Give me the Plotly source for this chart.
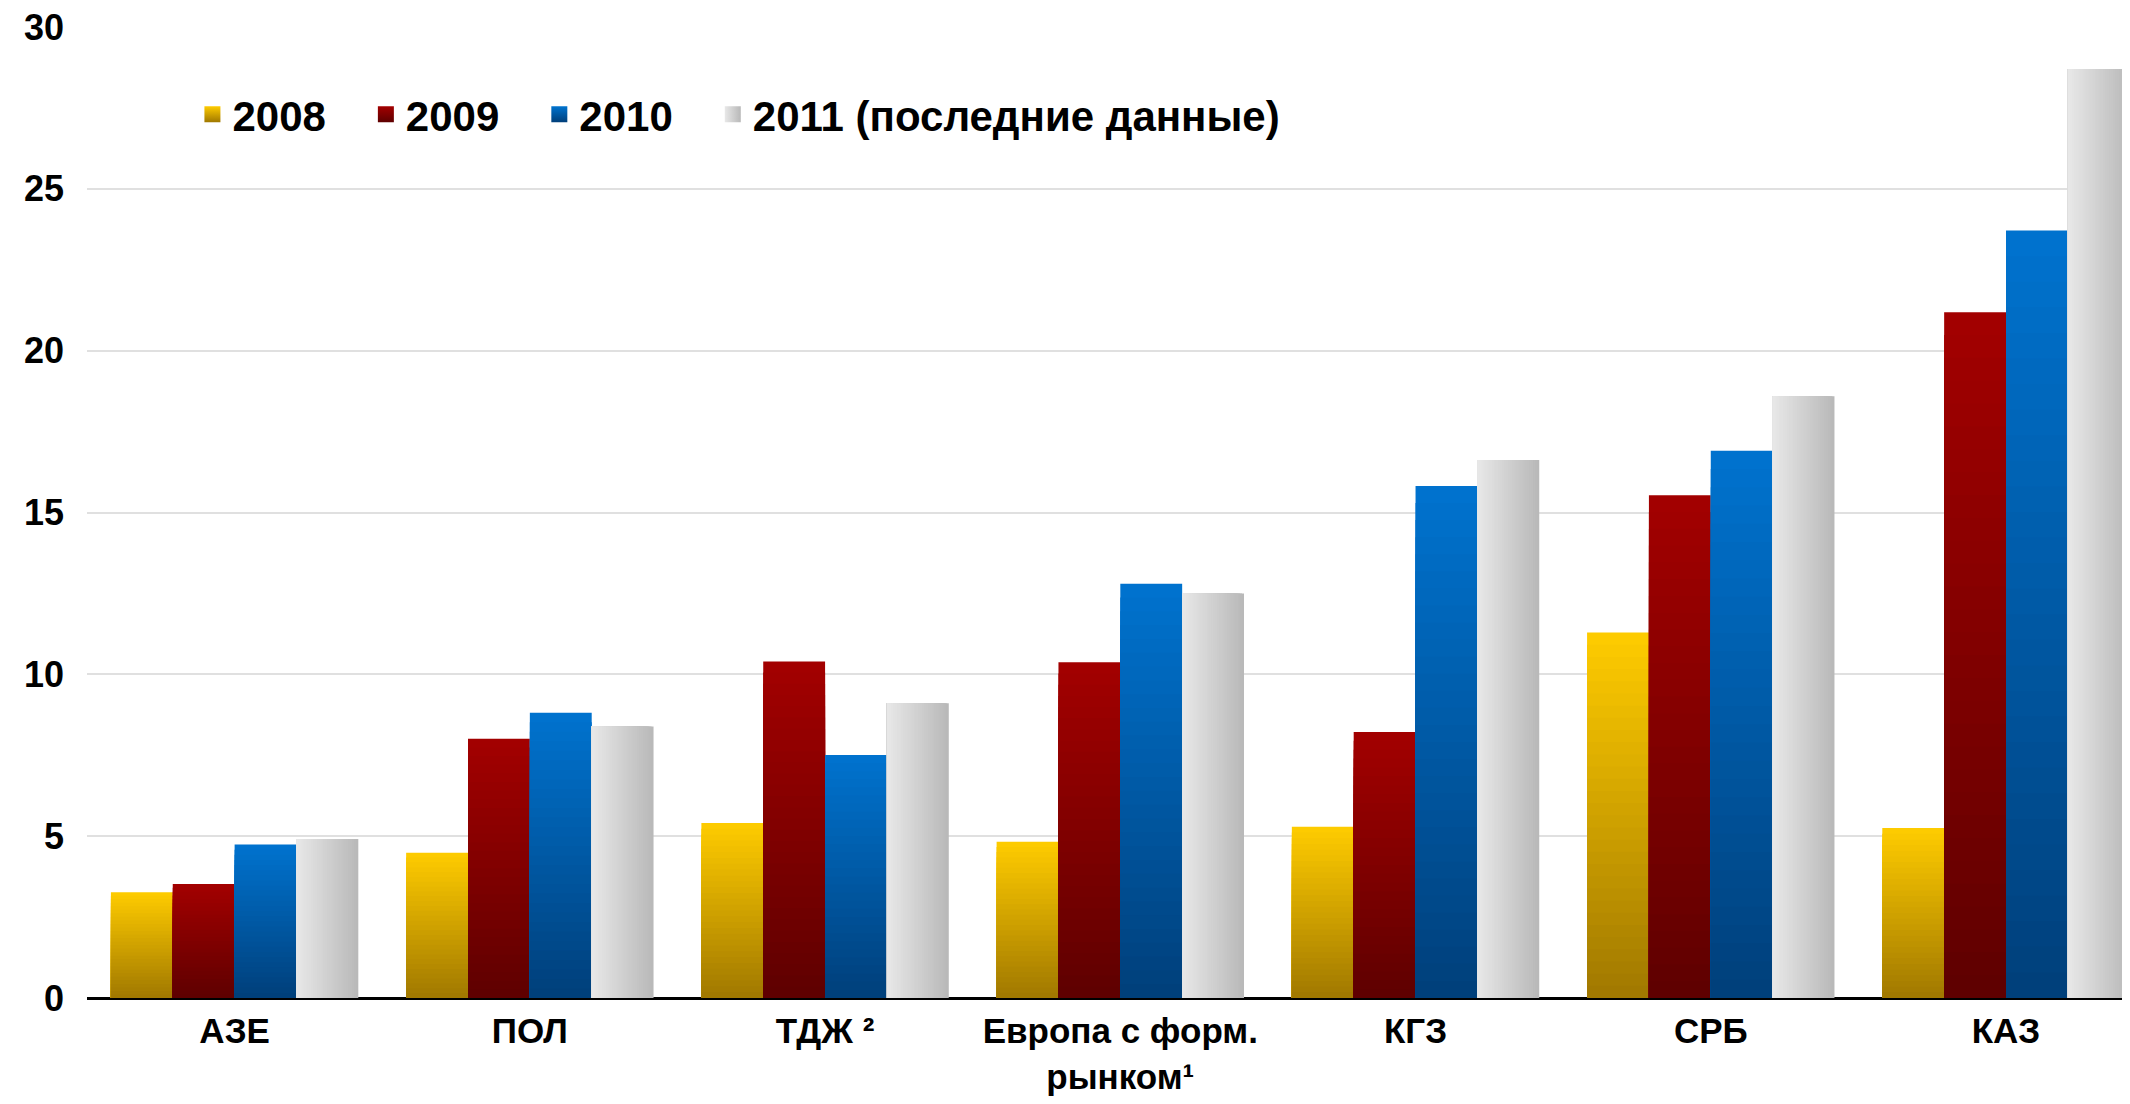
import plotly.graph_objects as go

categories = ["АЗЕ", "ПОЛ", "ТДЖ ²", "Европа с форм.<br>рынком¹", "КГЗ", "СРБ", "КАЗ"]
v2008 = [3.27, 4.49, 5.41, 4.83, 5.29, 11.29, 5.25]
v2009 = [3.52, 8.01, 10.40, 10.37, 8.22, 15.53, 21.19]
v2010 = [4.74, 8.81, 7.51, 12.80, 15.82, 16.91, 23.71]
v2011 = [4.91, 8.39, 9.11, 12.50, 16.62, 18.59, 28.70]

names = ["2008", "2009", "2010", "2011 (последние данные)"]
# (bottom/left colour, top/right colour, direction)
styles = [
    ("#a07800", "#ffcc00", "v"),
    ("#5e0000", "#a30000", "v"),
    ("#003f7a", "#0073cf", "v"),
    ("#e8e8e8", "#b8b8b8", "h"),
]

BW = 0.2095
N = 30
FONT = "Liberation Sans, Arial, sans-serif"
PAD = "\u00a0" * 3  # spacing between legend items


def mix(c1, c2, t):
    a = [int(c1[i:i + 2], 16) for i in (1, 3, 5)]
    b = [int(c2[i:i + 2], 16) for i in (1, 3, 5)]
    return "rgb(%d,%d,%d)" % tuple(round(a[k] + (b[k] - a[k]) * t) for k in range(3))


fig = go.Figure()
for i, vals in enumerate([v2008, v2009, v2010, v2011]):
    c0, c1, d = styles[i]
    left = -2 * BW + i * BW
    # gradient: stack of overlaid bars, biggest first
    for j in range(N - 1, -1, -1):
        col = mix(c0, c1, (j + 0.5) / N)
        if d == "v":
            y = [v * (j + 1) / N for v in vals]
            w = BW
        else:
            y = vals
            w = BW * (j + 1) / N
        fig.add_trace(go.Bar(
            x=categories, y=y, width=w, offset=left,
            marker=dict(color=col, line=dict(width=0)),
            name=names[i], legendgroup=names[i], showlegend=False,
            hoverinfo="skip" if j < N - 1 else None,
        ))

# legend entries
for i, nm in enumerate(names):
    c0, c1, d = styles[i]
    if d == "v":
        mk = dict(symbol="square", size=16, color=c1,
                  gradient=dict(type="vertical", color=c0))
    else:
        mk = dict(symbol="square", size=16, color=c0,
                  gradient=dict(type="horizontal", color=c1))
    label = nm + PAD if i < 3 else nm
    fig.add_trace(go.Scatter(x=[None], y=[None], mode="markers", marker=mk,
                             name=label, legendgroup=nm, showlegend=True))

# page has an 8px body margin, so the figure is 8px smaller than the window
fig.update_layout(
    width=2122, height=1096,
    barmode="overlay",
    plot_bgcolor="white", paper_bgcolor="white",
    margin=dict(l=79, r=0, t=19, b=106),
    font=dict(family=FONT, color="black", size=36),
    legend=dict(
        orientation="h", x=0.0516, y=0.91, xanchor="left", yanchor="middle",
        font=dict(family=FONT, size=42, weight="bold"),
        bgcolor="rgba(0,0,0,0)", itemsizing="trace",
    ),
    xaxis=dict(
        range=[-0.5, 6.42], showgrid=False, showline=False, ticks="",
        tickfont=dict(family=FONT, size=35, weight="bold"),
        automargin=False, ticklabelstandoff=9, ticklabeloverflow="allow",
    ),
    yaxis=dict(
        range=[0, 30], dtick=5, showgrid=True, gridcolor="#e0e0e0", gridwidth=2,
        zeroline=True, zerolinecolor="black", zerolinewidth=3,
        tickfont=dict(family=FONT, size=36, weight="bold"),
        ticklabelstandoff=22, automargin=False, ticklabeloverflow="allow",
    ),
)

fig.write_html("out.html")
